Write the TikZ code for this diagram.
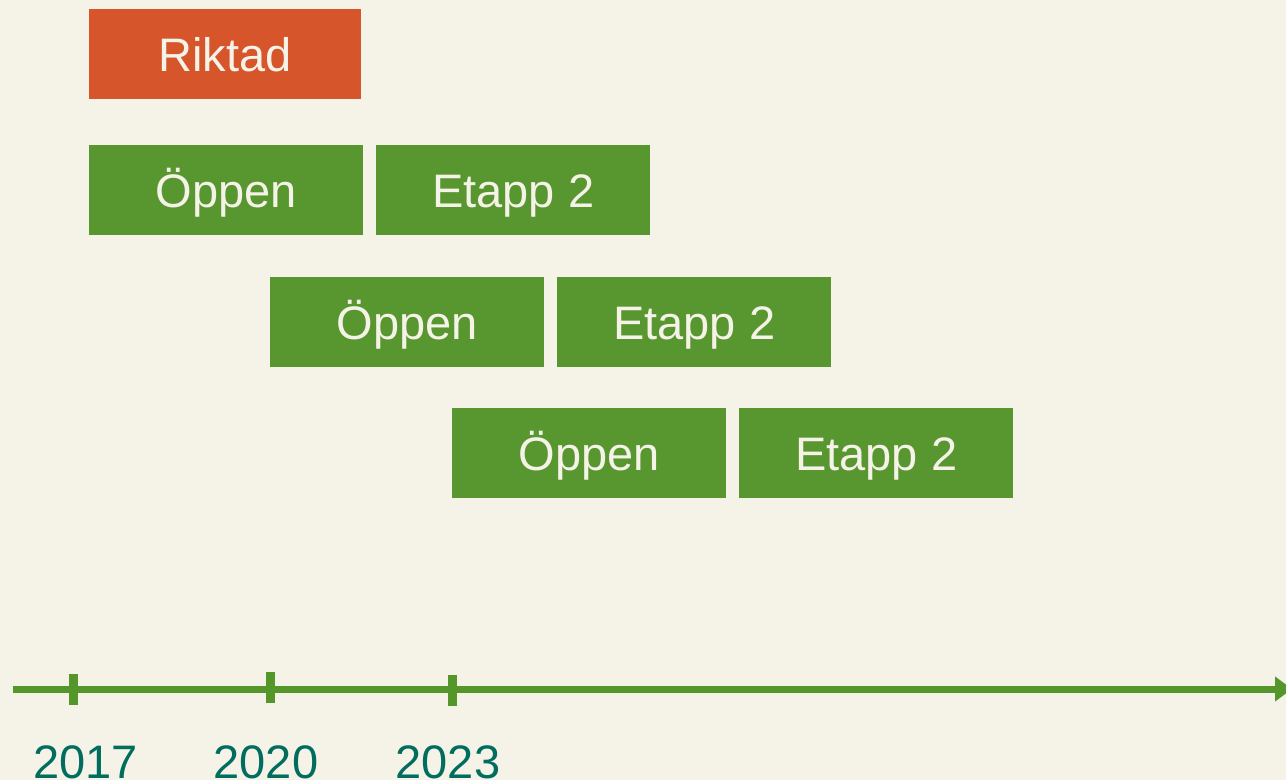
\documentclass[tikz,border=0pt]{standalone}
\usepackage{fontspec}
\setmainfont{Liberation Sans}
\usetikzlibrary{arrows.meta}
\definecolor{bg}{HTML}{F5F2E8}
\definecolor{boxgreen}{HTML}{58962F}
\definecolor{boxorange}{HTML}{D6552A}
\definecolor{axisgreen}{HTML}{55962A}
\definecolor{yearteal}{HTML}{006D5F}
\tikzset{
  phase/.style={draw=none, fill=boxgreen, text=bg, minimum width=274pt, minimum height=90pt,
    inner xsep=0pt, inner ysep=0pt, text height=34pt, text depth=0pt,
    font=\fontsize{47}{50}\selectfont, anchor=north west},
  riktad/.style={phase, fill=boxorange, minimum width=272pt},
  axisline/.style={draw=axisgreen, line width=7pt},
  tickmark/.style={draw=axisgreen, line width=9pt},
  yearlabel/.style={text=yearteal, font=\fontsize{47}{50}\selectfont, inner sep=0pt, anchor=base}
}
\begin{document}
\begin{tikzpicture}[x=1pt,y=-1pt]
\fill[bg] (0,0) rectangle (1286,780);
\useasboundingbox (0,0) rectangle (1286,780);
\begin{scope}
\clip (0,0) rectangle (1286,780);
\node[riktad] (r) at (89,9) {Riktad};
\node[phase] (o1) at (89,145) {Öppen};
\node[phase] (e1) at (376,145) {Etapp 2};
\node[phase] (o2) at (270,277) {Öppen};
\node[phase] (e2) at (557,277) {Etapp 2};
\node[phase] (o3) at (452,408) {Öppen};
\node[phase] (e3) at (739,408) {Etapp 2};
\coordinate (axstart) at (13,689);
\coordinate (axend) at (1292,689);
\draw[axisline, -{Triangle[length=17pt,width=24pt]}] (axstart) -- (axend);
\coordinate (t1a) at (73.5,674); \coordinate (t1b) at (73.5,705);
\coordinate (t2a) at (270.5,672); \coordinate (t2b) at (270.5,703);
\coordinate (t3a) at (452.5,675); \coordinate (t3b) at (452.5,706);
\draw[tickmark] (t1a) -- (t1b);
\draw[tickmark] (t2a) -- (t2b);
\draw[tickmark] (t3a) -- (t3b);
\node[yearlabel] (y1) at (85.5,778) {2017};
\node[yearlabel] (y2) at (266,778) {2020};
\node[yearlabel] (y3) at (448,778) {2023};
\end{scope}
\end{tikzpicture}
\end{document}
